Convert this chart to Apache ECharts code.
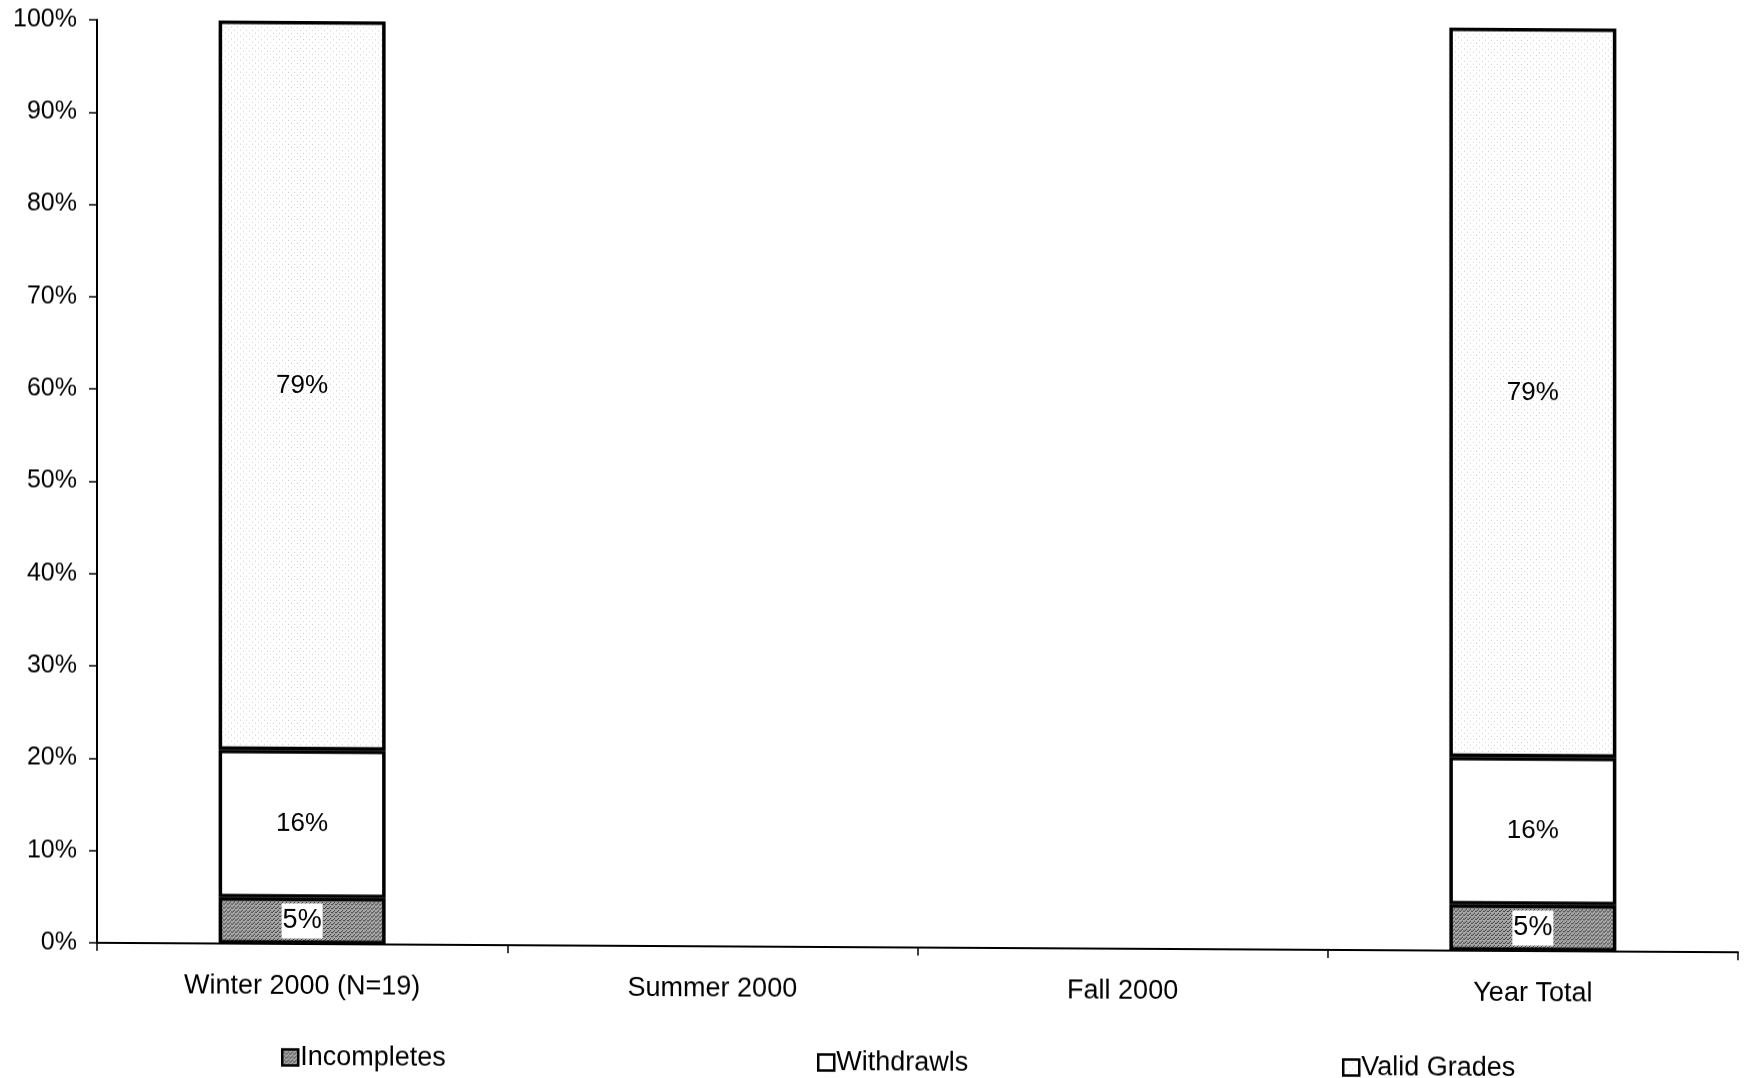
<!DOCTYPE html>
<html>
<head>
<meta charset="utf-8">
<script src="https://cdn.jsdelivr.net/npm/echarts@6/dist/echarts.min.js"></script>
<style>
  html, body { margin: 0; padding: 0; background: #fff; }
  #chart { width: 1744px; height: 1078px; transform-origin: 303px 500px; transform: skewY(0.33deg); }
</style>
</head>
<body>
<div id="chart"></div>
<script>
// Terms and their outcome shares (percent of students)
const terms = ['Winter 2000 (N=19)', 'Summer 2000', 'Fall 2000', 'Year Total'];
const incompletes = [5, null, null, 5];
const withdrawls = [16, null, null, 16];
const validGrades = [79, null, null, 79];
const yTicks = { min: 0, max: 100, interval: 10 };

// Small stipple textures for the shaded segments
function stipple(base, dot, step, dots) {
  const c = document.createElement('canvas');
  c.width = step; c.height = step;
  const g = c.getContext('2d');
  g.fillStyle = base; g.fillRect(0, 0, step, step);
  g.fillStyle = dot;
  dots.forEach(([x, y]) => g.fillRect(x, y, 1, 1));
  return { image: c, repeat: 'repeat' };
}
const darkFill = stipple('#a6a6a6', '#3c3c3c', 4, [[0, 0], [2, 2], [3, 0], [1, 3]]);
const lightFill = stipple('#ffffff', '#cfcfcf', 6, [[0, 0], [3, 3]]);

const font = 'Liberation Sans, Arial, sans-serif';
const border = { borderColor: '#000', borderWidth: 3.5 };

function barSeries(name, data, fill, labelExtra) {
  return {
    name: name,
    type: 'bar',
    stack: 'total',
    data: data,
    barWidth: 167,
    itemStyle: Object.assign({ color: fill }, border),
    label: Object.assign({
      show: true,
      position: 'inside',
      formatter: '{c}%',
      color: '#000',
      fontFamily: font,
      fontSize: 26
    }, labelExtra || {})
  };
}

function legendAt(name, left, top) {
  return {
    data: [name],
    left: left,
    top: top,
    itemWidth: 16,
    itemHeight: 16,
    itemGap: 8,
    icon: 'rect',
    selectedMode: false,
    itemStyle: { borderColor: '#000', borderWidth: 2.5 },
    textStyle: { fontFamily: font, fontSize: 27, color: '#000', padding: [0, 0, 0, -3] }
  };
}

const chart = echarts.init(document.getElementById('chart'), null, { renderer: 'canvas' });
chart.setOption({
  animation: false,
  backgroundColor: '#fff',
  grid: { left: 97, right: 6, top: 21, bottom: 134, containLabel: false },
  legend: [
    legendAt('Incompletes', 276, 1039),
    legendAt('Withdrawls', 812, 1041),
    legendAt('Valid Grades', 1337, 1043)
  ],
  xAxis: {
    type: 'category',
    data: terms,
    axisLine: { lineStyle: { color: '#000', width: 2 } },
    axisTick: { show: true, length: 8, lineStyle: { color: '#000', width: 1.5 } },
    axisLabel: { color: '#000', fontFamily: font, fontSize: 27, margin: 29 }
  },
  yAxis: {
    type: 'value',
    min: yTicks.min,
    max: yTicks.max,
    interval: yTicks.interval,
    axisLine: { show: true, lineStyle: { color: '#000', width: 2 } },
    axisTick: { show: true, length: 8, lineStyle: { color: '#000', width: 1.5 } },
    splitLine: { show: false },
    axisLabel: { color: '#000', fontFamily: font, fontSize: 25, margin: 20, formatter: '{value}%' }
  },
  series: [
    barSeries('Incompletes', incompletes, darkFill, { backgroundColor: '#fff', padding: [5, 1, 3, 1], fontSize: 27 }),
    barSeries('Withdrawls', withdrawls, '#ffffff'),
    barSeries('Valid Grades', validGrades, lightFill)
  ]
});
</script>
</body>
</html>
